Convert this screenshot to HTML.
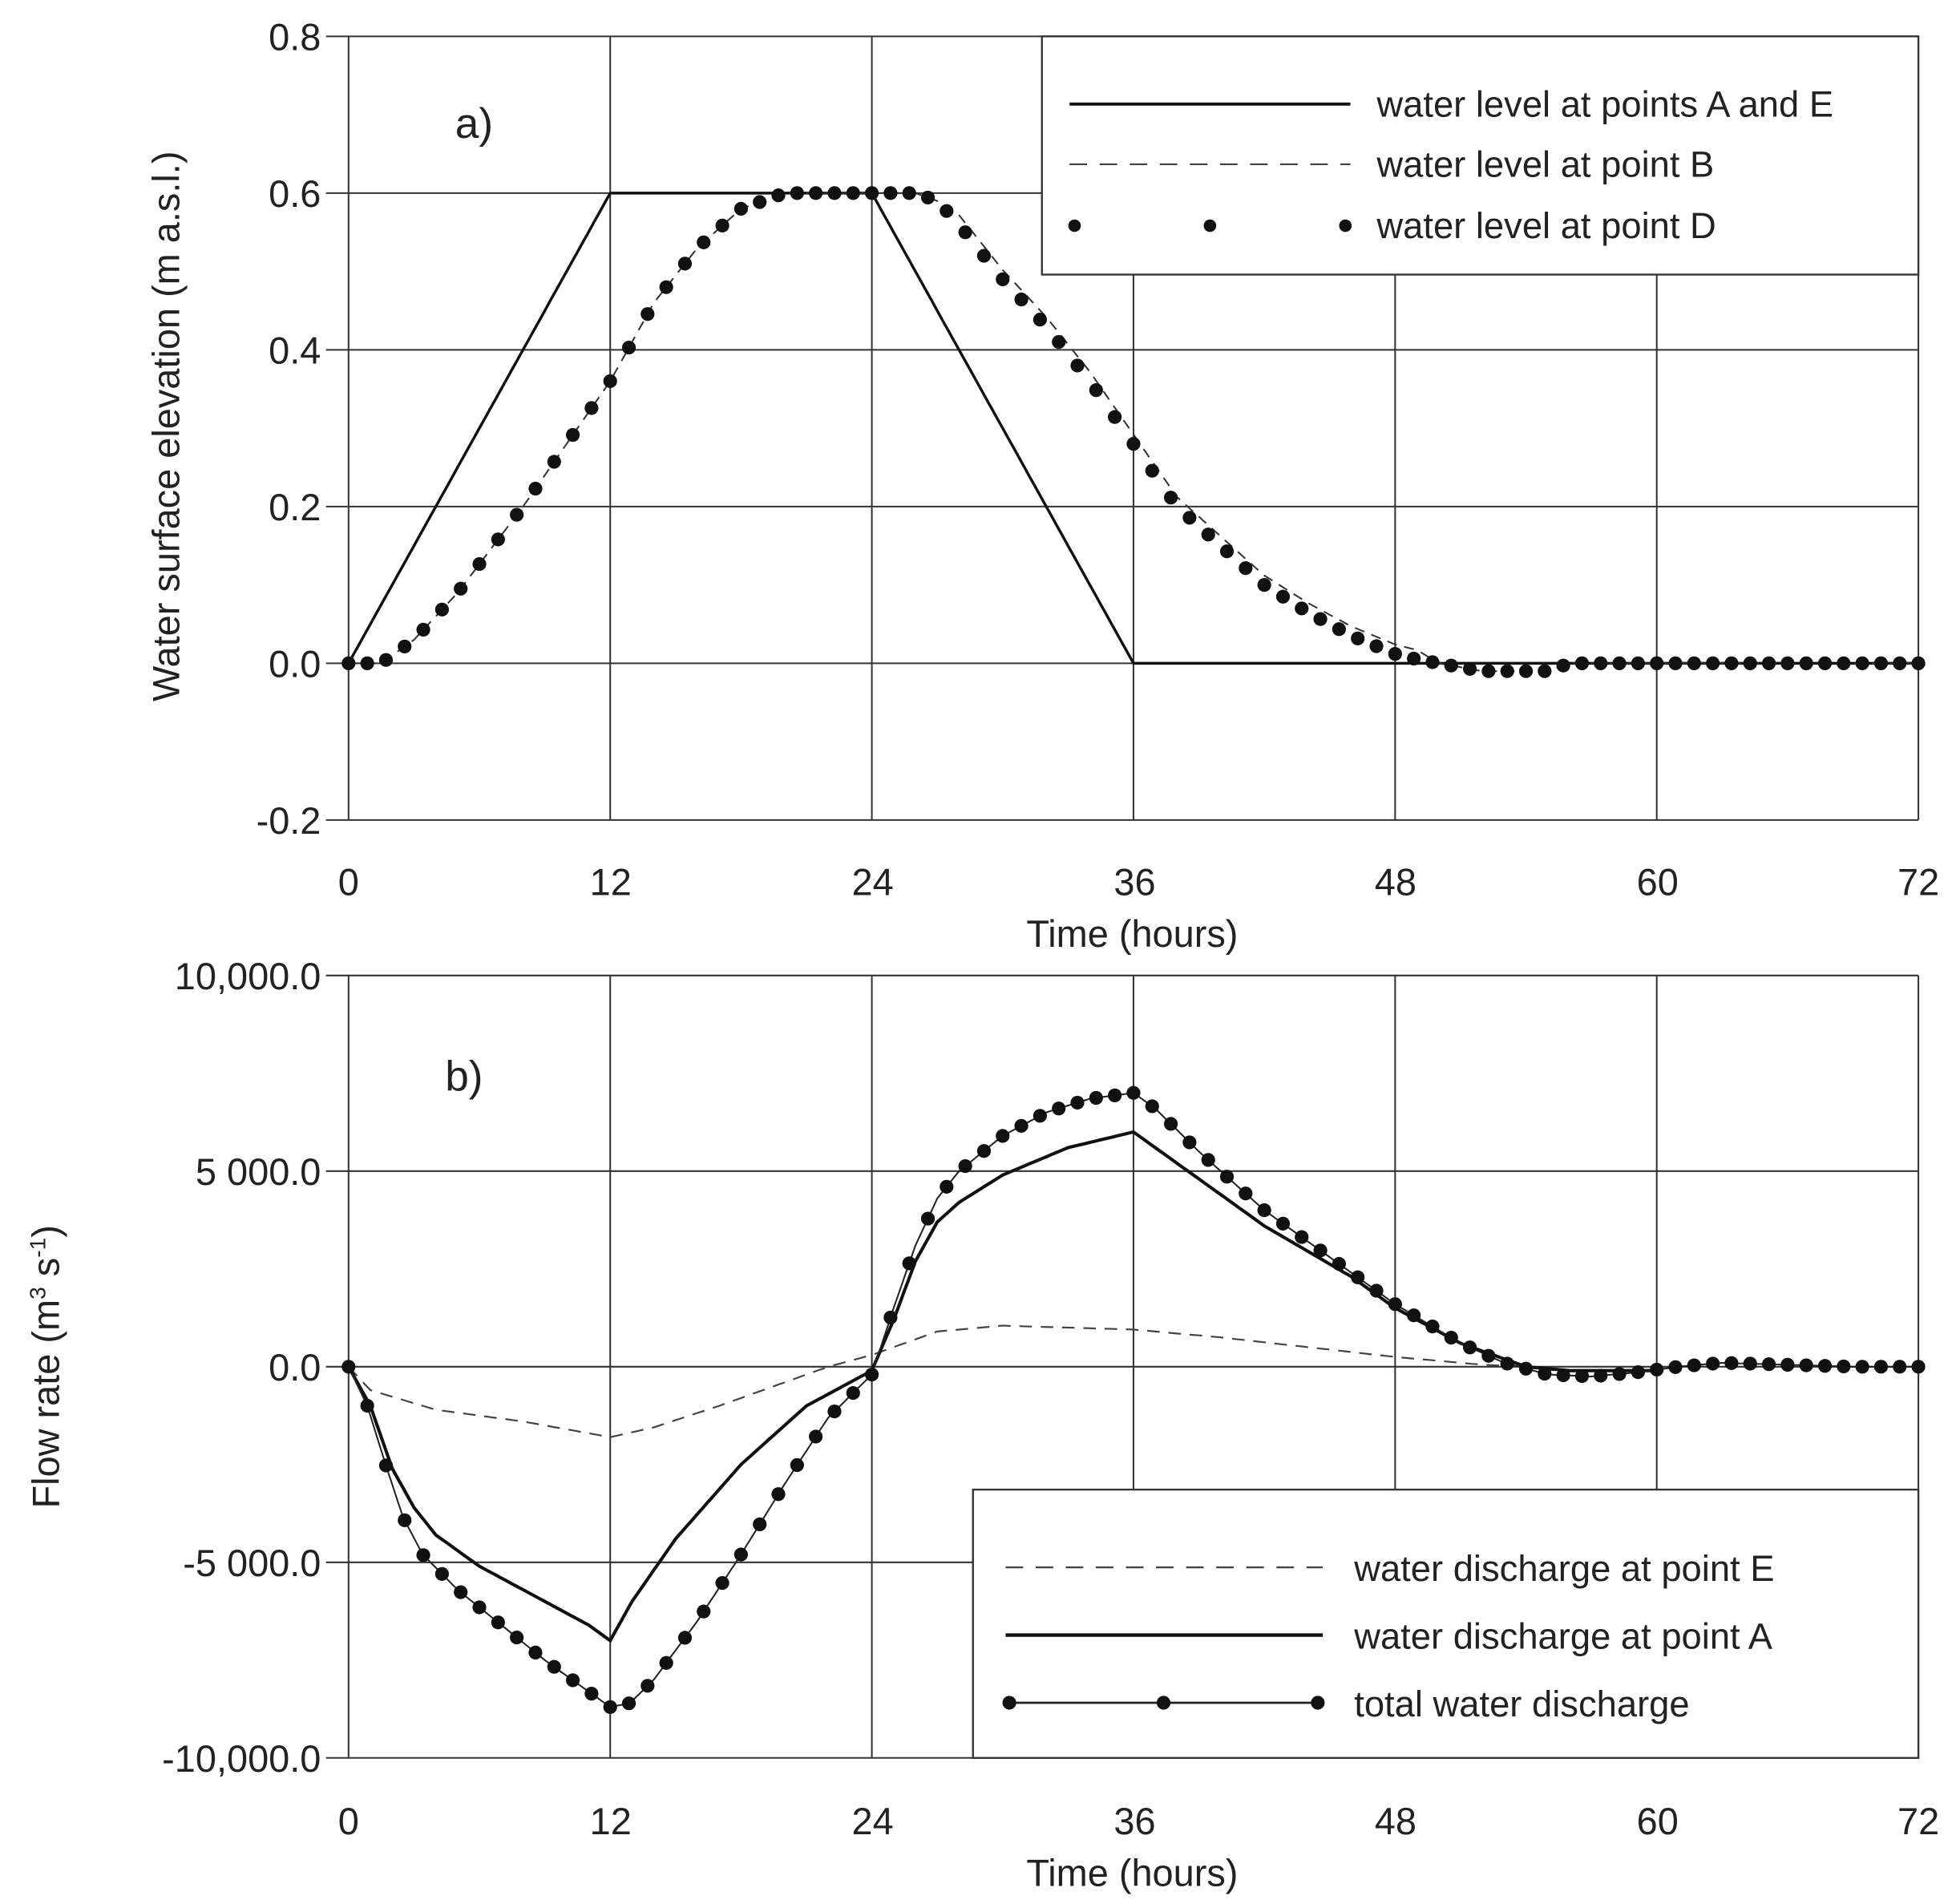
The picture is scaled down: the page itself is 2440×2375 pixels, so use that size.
<!DOCTYPE html>
<html><head><meta charset="utf-8"><style>
html,body{margin:0;padding:0;background:#fff}
svg{display:block}
text{font-family:"Liberation Sans",sans-serif;fill:#222}
</style></head><body>
<svg id="s" width="2440" height="2375" viewBox="0 0 1560 1518.5" preserveAspectRatio="none" xmlns="http://www.w3.org/2000/svg">
<rect width="1560" height="1519" fill="#fff"/>
<g id="grid" stroke="#333" stroke-width="1.3" fill="none"></g>
<g font-size="30" text-anchor="end">
<text x="256" y="40">0.8</text><text x="256" y="165">0.6</text><text x="256" y="290">0.4</text><text x="256" y="415">0.2</text><text x="256" y="540">0.0</text><text x="256" y="665">-0.2</text>
<text x="256" y="789">10,000.0</text><text x="256" y="945">5 000.0</text><text x="256" y="1101">0.0</text><text x="256" y="1257">-5 000.0</text><text x="256" y="1413">-10,000.0</text>
</g>
<g font-size="30" text-anchor="middle">
<text x="278" y="714">0</text><text x="487" y="714">12</text><text x="696" y="714">24</text><text x="905" y="714">36</text><text x="1113" y="714">48</text><text x="1322" y="714">60</text><text x="1530" y="714">72</text>
<text x="903" y="755">Time (hours)</text>
<text x="278" y="1463">0</text><text x="487" y="1463">12</text><text x="696" y="1463">24</text><text x="905" y="1463">36</text><text x="1113" y="1463">48</text><text x="1322" y="1463">60</text><text x="1530" y="1463">72</text>
<text x="903" y="1504">Time (hours)</text>
<text transform="translate(143,340) rotate(-90)">Water surface elevation (m a.s.l.)</text>
<text transform="translate(47,1090) rotate(-90)">Flow rate (m<tspan font-size="18" dy="-11">3</tspan><tspan dy="11"> s</tspan><tspan font-size="18" dy="-11">-1</tspan><tspan dy="11">)</tspan></text>
</g>
<text x="363" y="110" font-size="34">a)</text>
<text x="355" y="870" font-size="34">b)</text>
<g id="series"></g>
<g id="leg"></g>
</svg>
<script>
const NS="http://www.w3.org/2000/svg";
function el(p,n,a){const e=document.createElementNS(NS,n);for(const k in a)e.setAttribute(k,a[k]);p.appendChild(e);return e;}
const g=document.getElementById('grid');
const X=t=>278+t*(1530-278)/72;
[29,154,279,404,529,654].forEach(y=>el(g,'line',{x1:260,x2:1530,y1:y,y2:y}));
[778,934,1090,1246,1402].forEach(y=>el(g,'line',{x1:260,x2:1530,y1:y,y2:y}));
for(let i=0;i<=6;i++){const x=X(i*12);el(g,'line',{x1:x,x2:x,y1:29,y2:654});el(g,'line',{x1:x,x2:x,y1:778,y2:1402});}
const Ya=v=>529-v*625;
const Yb=v=>1090-v*31.2;
function interp(pts,t){if(t<=pts[0][0])return pts[0][1];for(let i=1;i<pts.length;i++){if(t<=pts[i][0]){const[a,b]=pts[i-1],[c,d]=pts[i];return b+(d-b)*(t-a)/(c-a);}}return pts[pts.length-1][1];}
function path(pts,Y,step){let d='';for(let t=0;t<=72.0001;t+=step){d+=(d?'L':'M')+X(t).toFixed(1)+','+Y(interp(pts,t)).toFixed(1);}return d;}
const s=document.getElementById('series');
// top
const AE=[[0,0],[12,.6],[24,.6],[36,0],[72,0]];
const D=[[0,0],[1.5,0],[3,.03],[5,.09],[8,.2],[10,.28],[12,.36],[14,.46],[16,.53],[18,.58],[20,.6],[26,.6],[27,.59],[28,.56],[30,.49],[32,.43],[34,.36],[36,.28],[38,.2],[40,.15],[42,.1],[44,.065],[46,.035],[48,.012],[49,.005],[50,0],[52,-.01],[55,-.01],[56,0],[72,0]];
const B=D.map(p=>[p[0],p[0]>27&&p[0]<50?p[1]+0.012:p[1]]);
el(s,'path',{d:path(AE,Ya,0.25),stroke:'#111','stroke-width':2.2,fill:'none'});
el(s,'path',{d:path(B,Ya,0.25),stroke:'#333','stroke-width':1.3,fill:'none','stroke-dasharray':'8,6'});
for(let i=0;i<=84;i++){const t=i*72/84;el(s,'circle',{cx:X(t),cy:Ya(interp(D,t)),r:5.5,fill:'#111'});}
// bottom
const T=[[0,0],[.86,-1],[1.7,-2.5],[2.5,-3.85],[3.4,-4.8],[5,-5.7],[7,-6.6],[9,-7.5],[11,-8.3],[12,-8.7],[12.9,-8.6],[14,-8],[16,-6.5],[18,-4.8],[20,-3],[22,-1.3],[24,-.2],[25,1.5],[26,3.1],[27,4.3],[28,5],[30,5.9],[32,6.5],[34,6.85],[36,7],[37,6.6],[39,5.5],[42,4],[45,2.8],[48,1.6],[51,.6],[53,.1],[55,-.2],[57,-.25],[59,-.15],[61,0],[63,.1],[66,.05],[69,0],[72,0]];
const A=[[0,0],[1,-1],[2,-2.6],[3,-3.6],[4,-4.3],[6,-5.1],[9,-6],[11,-6.6],[12,-7],[13,-6],[15,-4.4],[18,-2.5],[21,-1],[24,-.1],[25,1.2],[26,2.7],[27,3.7],[28,4.2],[30,4.9],[33,5.6],[36,6],[38,5.2],[42,3.6],[46,2.3],[48,1.5],[51,.6],[54,0],[56,-.1],[60,-.1],[61,0],[72,0]];
const E=[[0,0],[1,-.6],[4,-1.1],[8,-1.4],[12,-1.8],[14,-1.55],[17,-1],[20,-.4],[22,0],[24,.3],[25,.5],[27,.9],[30,1.05],[33,1.0],[36,.95],[40,.75],[44,.5],[48,.25],[52,.05],[54,0]];
function pathR(pts,Y,end){let d='';for(let t=0;t<=end+1e-4;t+=0.25){d+=(d?'L':'M')+X(t).toFixed(1)+','+Y(interp(pts,t)).toFixed(1);}return d;}
el(s,'path',{d:pathR(E,Yb,54),stroke:'#444','stroke-width':1.4,fill:'none','stroke-dasharray':'10,7'});
el(s,'path',{d:pathR(A,Yb,60),stroke:'#111','stroke-width':2.6,fill:'none'});
el(s,'path',{d:path(T,Yb,0.25),stroke:'#222','stroke-width':1.3,fill:'none'});
for(let i=0;i<=84;i++){const t=i*72/84;el(s,'circle',{cx:X(t),cy:Yb(interp(T,t)),r:5.5,fill:'#111'});}
// legends
const L=document.getElementById('leg');
el(L,'rect',{x:831,y:29,width:699,height:190,fill:'#fff',stroke:'#333','stroke-width':1.5});
el(L,'line',{x1:853,x2:1077,y1:83,y2:83,stroke:'#111','stroke-width':2.5});
el(L,'line',{x1:853,x2:1077,y1:131,y2:131,stroke:'#333','stroke-width':1.3,'stroke-dasharray':'14,10'});
[857,965,1073].forEach(x=>el(L,'circle',{cx:x,cy:180,r:5,fill:'#111'}));
el(L,'rect',{x:776,y:1188,width:754,height:214,fill:'#fff',stroke:'#333','stroke-width':1.5});
el(L,'line',{x1:802,x2:1055,y1:1250,y2:1250,stroke:'#444','stroke-width':1.5,'stroke-dasharray':'14,10'});
el(L,'line',{x1:802,x2:1055,y1:1304,y2:1304,stroke:'#111','stroke-width':2.8});
el(L,'line',{x1:805,x2:1051,y1:1358,y2:1358,stroke:'#222','stroke-width':1.8});
[805,928,1051].forEach(x=>el(L,'circle',{cx:x,cy:1358,r:5.5,fill:'#111'}));
const tx=[[1098,93,'water level at points A and E'],[1098,141,'water level at point B'],[1098,190,'water level at point D'],[1080,1261,'water discharge at point E'],[1080,1315,'water discharge at point A'],[1080,1369,'total water discharge']];
tx.forEach(([x,y,t])=>{const e=el(L,'text',{x:x,y:y,'font-size':29});e.textContent=t;});
</script>
</body></html>
